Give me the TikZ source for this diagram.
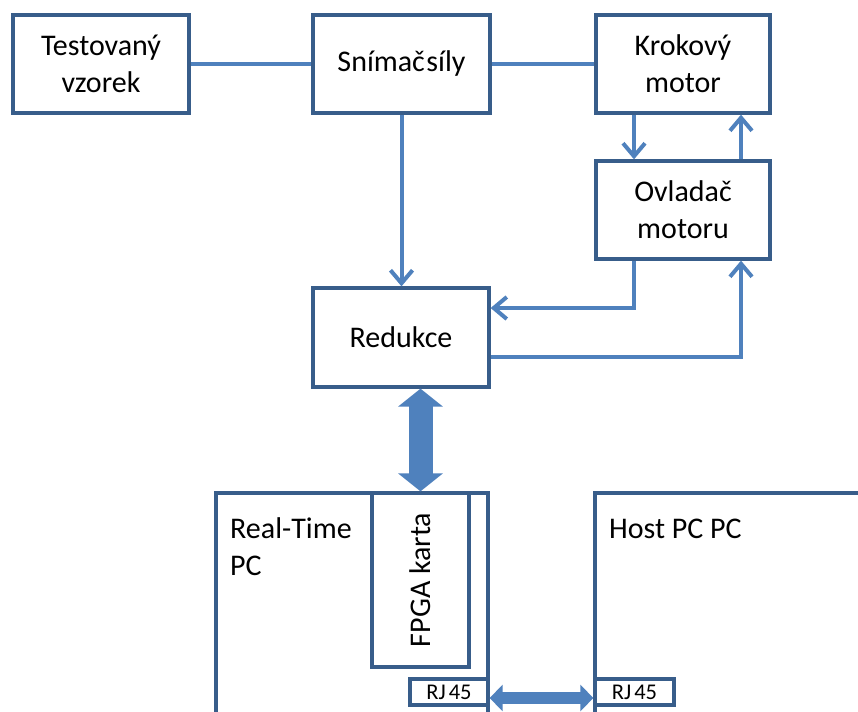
\documentclass[tikz,border=0pt]{standalone}
\usepackage{fontspec}
\setmainfont{Carlito}
\usetikzlibrary{arrows.meta,calc}
\definecolor{boxblue}{HTML}{385D8A}
\definecolor{linkblue}{HTML}{4F81BD}
\begin{document}
\begin{tikzpicture}[x=1pt,y=-1pt,
  box/.style={draw=boxblue, line width=3.3pt, fill=white, inner sep=0pt, align=center,
              font=\fontsize{30}{37}\selectfont},
  lbl/.style={inner sep=0pt, font=\fontsize{30}{37}\selectfont},
  rjbox/.style={draw=boxblue, line width=3.3pt, fill=white, inner sep=0pt,
              font=\fontsize{22.5}{26}\selectfont},
  conn/.style={draw=linkblue, line width=4pt},
  barb/.style={-{Straight Barb[length=13pt,width=22pt]}},
  bigarrow/.style={draw=linkblue, line width=24pt,
     {Triangle[length=18pt,width=44pt]}-{Triangle[length=18pt,width=44pt]}},
  midarrow/.style={draw=linkblue, line width=12pt,
     {Triangle[length=13pt,width=26pt]}-{Triangle[length=13pt,width=26pt]}}]
\clip (0,0) rectangle (858,711);
\fill[white] (0,0) rectangle (858,711);

% top row
\node[box, minimum width=176pt, minimum height=98pt] (test) at (101,64) {Testovaný\\vzorek};
\node[box, minimum width=177pt, minimum height=98pt] (snim) at (401.5,64) {Snímač\hspace{1.5pt}síly};
\node[box, minimum width=174pt, minimum height=98pt] (krok) at (683,64) {Krokový\\motor};
\node[box, minimum width=174pt, minimum height=98pt] (ovl) at (683,210) {Ovladač\\motoru};
\node[box, minimum width=176pt, minimum height=99pt] (red) at (401,337.5) {Redukce};

% computers
\node[box, minimum width=272pt, minimum height=267pt] (rt) at (352,626.5) {};
\node[box, minimum width=305pt, minimum height=267pt] (host) at (747.5,626.5) {};
\node[lbl, anchor=base west] (rtl1) at (230,538) {Real-Time};
\node[lbl, anchor=base west] (rtl2) at (230,575) {PC};
\node[lbl, anchor=base west] (hostl) at (609,538) {Host PC PC};
\node[box, minimum width=97pt, minimum height=174pt] (fpga) at (420.5,580) {};
\node[lbl, rotate=90] (fpgal) at (fpga.center) {FPGA karta};
\node[rjbox, minimum width=78pt, minimum height=26pt] (rjl) at (449,692) {RJ\hspace{3pt}45};
\node[rjbox, minimum width=79pt, minimum height=26pt] (rjr) at (634.5,692) {RJ\hspace{3pt}45};

% helper coordinates
\coordinate (xa) at (634,0);
\coordinate (xb) at (741,0);
\coordinate (ya) at (0,308);
\coordinate (yb) at (0,357);
\coordinate (yc) at (0,698);

% connectors
\draw[conn] (test.east) -- (snim.west);
\draw[conn] (snim.east) -- (krok.west);
\draw[conn, barb] (snim.south) -- (snim.south |- red.north);
\draw[conn, barb] (krok.south -| xa) -- (ovl.north -| xa);
\draw[conn, barb] (ovl.north -| xb) -- (krok.south -| xb);
\draw[conn, barb] (ovl.south -| xa) |- (red.east |- ya);
\draw[conn, barb] (red.east |- yb) -| (ovl.south -| xb);

\draw[bigarrow] (fpga.north |- red.south) -- (fpga.north);
\draw[midarrow] (rjl.east |- yc) -- (rjr.west |- yc);
\end{tikzpicture}
\end{document}
